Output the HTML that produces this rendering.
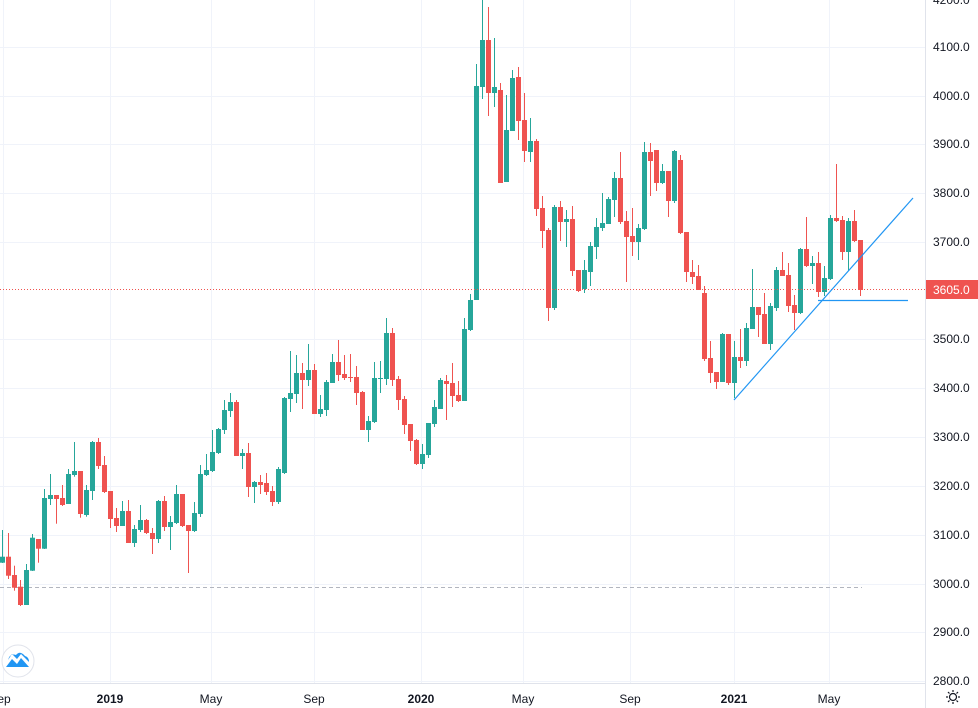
<!DOCTYPE html>
<html><head><meta charset="utf-8"><style>
html,body{margin:0;padding:0;background:#fff;}
svg{display:block;font-family:"Liberation Sans",Arial,sans-serif;}
</style></head><body>
<svg id="c" width="978" height="708" viewBox="0 0 978 708" xmlns="http://www.w3.org/2000/svg">
<rect width="978" height="708" fill="#fff"/>
<g stroke="#f0f3fa" stroke-width="1">
<line x1="0" y1="47.5" x2="925" y2="47.5"/><line x1="0" y1="96.5" x2="925" y2="96.5"/><line x1="0" y1="144.5" x2="925" y2="144.5"/><line x1="0" y1="193.5" x2="925" y2="193.5"/><line x1="0" y1="242.5" x2="925" y2="242.5"/><line x1="0" y1="339.5" x2="925" y2="339.5"/><line x1="0" y1="388.5" x2="925" y2="388.5"/><line x1="0" y1="437.5" x2="925" y2="437.5"/><line x1="0" y1="486.5" x2="925" y2="486.5"/><line x1="0" y1="535.5" x2="925" y2="535.5"/><line x1="0" y1="584.5" x2="925" y2="584.5"/><line x1="0" y1="632.5" x2="925" y2="632.5"/><line x1="0" y1="681.5" x2="925" y2="681.5"/>
<line x1="3.5" y1="0" x2="3.5" y2="683"/><line x1="110.5" y1="0" x2="110.5" y2="683"/><line x1="211.5" y1="0" x2="211.5" y2="683"/><line x1="314.5" y1="0" x2="314.5" y2="683"/><line x1="421.5" y1="0" x2="421.5" y2="683"/><line x1="523.5" y1="0" x2="523.5" y2="683"/><line x1="630.5" y1="0" x2="630.5" y2="683"/><line x1="734.5" y1="0" x2="734.5" y2="683"/><line x1="829.5" y1="0" x2="829.5" y2="683"/>
</g>
<line x1="0" y1="587.5" x2="862" y2="587.5" stroke="#b2b5be" stroke-width="1" stroke-dasharray="4,3"/>
<g id="candles"></g>
<line x1="0" y1="289.5" x2="925" y2="289.5" stroke="#ef5350" stroke-width="1" stroke-dasharray="1,2"/>
<line x1="734" y1="400" x2="913" y2="198" stroke="#2196f3" stroke-width="1.2"/>
<line x1="818" y1="300.5" x2="908" y2="300.5" stroke="#2196f3" stroke-width="1.2"/>
<line x1="925.5" y1="0" x2="925.5" y2="708" stroke="#e0e3eb"/>
<line x1="0" y1="683.5" x2="925" y2="683.5" stroke="#e0e3eb"/>
<g font-size="12" fill="#131722">
<text x="933" y="4">4200.0</text><text x="933" y="51">4100.0</text><text x="933" y="100">4000.0</text><text x="933" y="148">3900.0</text><text x="933" y="197">3800.0</text><text x="933" y="246">3700.0</text><text x="933" y="343">3500.0</text><text x="933" y="392">3400.0</text><text x="933" y="441">3300.0</text><text x="933" y="490">3200.0</text><text x="933" y="539">3100.0</text><text x="933" y="588">3000.0</text><text x="933" y="636">2900.0</text><text x="933" y="685">2800.0</text>
</g>
<rect x="926" y="280" width="52" height="19" fill="#ef5350"/>
<text x="933" y="294" font-size="12" fill="#fff">3605.0</text>
<g font-size="12" fill="#131722" text-anchor="middle">
<text x="4" y="703">ep</text><text x="110" y="703" font-weight="bold">2019</text><text x="211" y="703">May</text><text x="314" y="703">Sep</text><text x="421" y="703" font-weight="bold">2020</text><text x="523" y="703">May</text><text x="630" y="703">Sep</text><text x="734" y="703" font-weight="bold">2021</text><text x="829" y="703">May</text>
</g>
<circle cx="18" cy="661" r="16" fill="#fff" stroke="#e0e3eb"/>
<path d="M6 667 L12 659 L17 664 L21 658 L29 667 Z" fill="#2196f3"/>
<path d="M8 660 Q10 653 16 655 Q20 650 25 656 Q29 657 29 662 L21 654 L17 659 L12 654 Z" fill="#2196f3"/>
<g stroke="#131722" stroke-width="1.2" fill="none">
<circle cx="953" cy="697" r="3.5"/>
<line x1="953" y1="690" x2="953" y2="692"/><line x1="953" y1="702" x2="953" y2="704"/><line x1="946" y1="697" x2="948" y2="697"/><line x1="958" y1="697" x2="960" y2="697"/>
<line x1="948" y1="692" x2="949.5" y2="693.5"/><line x1="956.5" y1="700.5" x2="958" y2="702"/><line x1="948" y1="702" x2="949.5" y2="700.5"/><line x1="956.5" y1="693.5" x2="958" y2="692"/>
</g>
</svg>
<script>
var d=[
"g,556.7,562.7,530,563","r,556.7,575.7,533,579","r,575,587.7,565.7,590.7","r,586.7,605,580,606","g,570,605,564,605","g,537.7,570.7,534,571","r,539,548.7,539,562.7","g,498,548.7,489,549","g,495,499,474,505","r,495,499,495,523.7",
"r,498,505,485,506","g,474,504,469,504","g,471,475,442,476.7","r,471,514,471,517.7","g,490,515,485,516.7","g,442,491,441,500","r,442,466,438,469","r,465,492,456,493","r,491,519,491,528","r,518,526,508,532",
"g,511,526,501,526","r,511,543,500,543","g,529,543,525,547","g,520,530,505,532","r,520,533,519,534","r,533,539,528,554","g,501,539,500,543","r,501,527,496,531","g,522,527,516,550","g,494,523,485,524",
"r,494,526,494,527","r,525,531,525,573","g,513,531,502,532","g,474,514,465,517","g,470,475,454,476","g,452,471,430,472","g,429,453,428,454","g,410,430,400,434","g,402,411,393,417","r,402,456,400,456",
"g,453,456,449,469","r,453,487,443,497","g,482,487,481,503","r,482,485,475,494","r,483,492,473,495","r,491,502,486,506","g,469,502,467,504","g,398,473,397,474","g,393,399,351,412","g,373,394,355,403",
"r,373,380,363,409","g,370,380,344,386","r,370,414,364,414","g,409,414,395,417","g,382,410,380,416","g,362,383,354,383","r,362,375,340,381","r,374,378,355,380","r,377,378,354,382","r,377,393,366,405",
"r,392,430,391,430","g,421,430,416,442","g,378,422,362,423","g,378,379,361,393","g,333,379,318,385","r,333,380,328,386","r,379,400,376,410","r,399,425,396,434","r,424,441,424,451","r,440,464,439,465",
"g,454,464,444,469","g,423,455,423,458","g,407,424,400,427","g,380,409,378,409","r,381,384,375,420","r,383,396,363,407","r,395,401,381,402","g,329,401,318,401","g,300,330,294,331","g,86,300,64,300",
"g,40,87,0,99","r,40,93,7,116","g,87,93,38,107","r,90,183,83,183","g,130,182,95,182","g,78,131,70,131","r,77,121,67,140","r,120,151,93,162","g,141,152,118,162","r,141,209,139,216",
"r,208,231,196,248","r,230,308,228,321","g,207,308,205,310","r,207,222,201,241","g,219,222,210,247","r,219,271,206,276","r,270,291,270,292","g,270,289,260,293","g,246,272,242,286","g,227,247,218,259",
"g,223,228,193,231","g,199,224,197,224","g,178,200,172,217","r,178,222,152,224","r,221,237,211,282","r,236,242,208,256","g,228,242,224,260","g,152,229,142,230","r,152,161,143,196","r,150,183,150,191",
"g,171,183,164,184","r,171,201,171,217","g,151,201,150,203","r,160,233,155,234","r,232,272,232,282","r,272,277,260,284","r,276,290,265,290","r,293,359,286,361","r,358,373,341,383","r,372,382,372,389",
"g,334,382,333,382","r,334,383,334,385","g,357,383,341,398","r,357,361,329,368","g,328,361,323,366","g,307,329,269,329","r,307,315,307,337","r,314,344,293,344","g,306,344,303,350","g,270,308,267,311",
"r,270,276,252,276","r,275,306,263,312","r,305,313,295,330","g,249,313,248,314","r,249,266,217,267","g,263,266,256,284","r,263,292,252,297","g,278,292,266,296","g,218,279,215,280","r,218,221,164,222",
"r,220,252,216,260","g,221,252,218,271","r,221,241,210,242","r,240,290,240,296"];
var s="";
for(var i=0;i<d.length;i++){var p=d[i].split(",");var col=p[0]=="g"?"#26a69a":"#ef5350";
var bt=+p[1],bb=+p[2],h=+p[3],l=+p[4];var x=6*i;
s+='<rect x="'+(x+2)+'" y="'+h+'" width="1" height="'+Math.max(1,l-h)+'" fill="'+col+'"/>';
s+='<rect x="'+x+'" y="'+bt+'" width="5" height="'+Math.max(1,bb-bt)+'" fill="'+col+'"/>';}
document.getElementById("candles").innerHTML=s;
</script>
</body></html>
